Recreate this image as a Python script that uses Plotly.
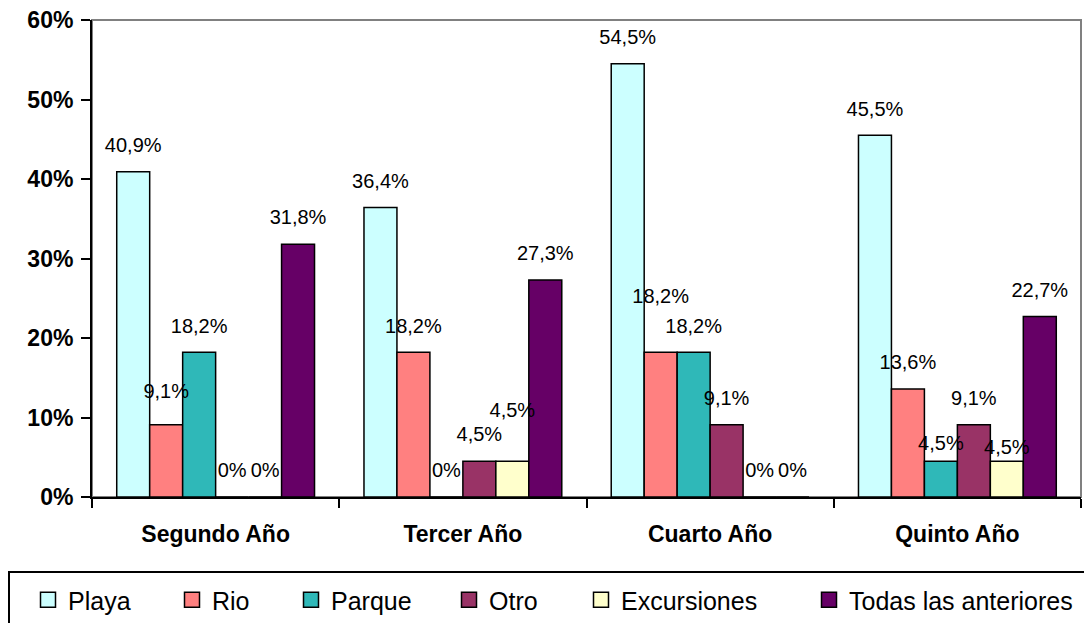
import plotly.graph_objects as go

categories = ["Segundo Año", "Tercer Año", "Cuarto Año", "Quinto Año"]
series_names = ["Playa", "Rio", "Parque", "Otro", "Excursiones", "Todas las anteriores"]
playa = [40.9, 36.4, 54.5, 45.5]
rio = [9.1, 18.2, 18.2, 13.6]
parque = [18.2, 0, 18.2, 4.5]
otro = [0, 4.5, 9.1, 9.1]
excursiones = [0, 4.5, 0, 4.5]
todas = [31.8, 27.3, 0, 22.7]
y_ticks = [0, 10, 20, 30, 40, 50, 60]
y_tick_labels = [f"{v}%" for v in y_ticks]

series_values = [playa, rio, parque, otro, excursiones, todas]
colors = ["#CCFFFF", "#FF8080", "#2FB8B8", "#993366", "#FFFFCC", "#660066"]

# extra vertical lift (px) of individual data labels, as placed in the original
label_lift = {
    "Rio": [7, 0, 30, 0],
    "Parque": [0, 0, 0, -9],
    "Excursiones": [0, 24, 0, -13],
}

FONT = "Liberation Sans, Arial, sans-serif"
W, H = 1092, 623
OFF = 8  # page body margin
# plot area in screen pixels
P_LEFT, P_RIGHT, P_TOP, P_BOTTOM = 92, 1081, 20, 497
ML = P_LEFT - OFF
MT = P_TOP - OFF
MR = W - (P_RIGHT - OFF)
MB = H - (P_BOTTOM - OFF)
PW, PH = W - ML - MR, H - MT - MB
BASE_LABEL_MARKER = 22


def fmt(v):
    if v == 0:
        return "0%"
    return (f"{v:.1f}").replace(".", ",") + "%"


def px_x(px):
    return (px - P_LEFT) / PW


def px_y(py):
    return (P_BOTTOM - py) / PH


fig = go.Figure()

for name, vals, col in zip(series_names, series_values, colors):
    fig.add_trace(go.Bar(
        x=categories, y=vals, name=name, showlegend=False, offsetgroup=name,
        marker=dict(color=col, line=dict(color="black", width=1.5)),
        hoverinfo="skip",
    ))

legend_text_px = [66, 210, 329, 487, 619, 847]
legend_keys = ["legend", "legend2", "legend3", "legend4", "legend5", "legend6"]

for i, (name, vals, col) in enumerate(zip(series_names, series_values, colors)):
    lift = label_lift.get(name, [0] * len(vals))
    sizes = [max(0.0, BASE_LABEL_MARKER + 1.6 * l) for l in lift]
    fig.add_trace(go.Scatter(
        x=categories, y=vals, mode="markers+text", orientation="v",
        text=[fmt(v) for v in vals], textposition="top center",
        textfont=dict(family=FONT, size=20, color="black"),
        marker=dict(size=sizes, opacity=0), offsetgroup=name,
        showlegend=False, cliponaxis=False, hoverinfo="skip",
    ))
    fig.add_trace(go.Scatter(
        x=[None], y=[None], mode="markers", name=name, offsetgroup=name,
        marker=dict(symbol="square", size=15, color=col,
                    line=dict(color="black", width=1.5)),
        legend=legend_keys[i], showlegend=True,
    ))

layout_legends = {}
for key, tx in zip(legend_keys, legend_text_px):
    layout_legends[key] = dict(
        xref="container", yref="container",
        x=(tx - 38 - OFF) / W, y=1 - (600 - OFF) / H, xanchor="left", yanchor="middle",
        orientation="h", bgcolor="rgba(0,0,0,0)", borderwidth=0,
        font=dict(family=FONT, size=25, color="black"), itemsizing="trace",
    )

fig.update_layout(
    width=W, height=H,
    margin=dict(l=ML, r=MR, t=MT, b=MB, autoexpand=False),
    paper_bgcolor="white", plot_bgcolor="white",
    barmode="group", bargap=0.2, bargroupgap=0,
    scattermode="group", scattergap=0.2,
    font=dict(family=FONT, color="black"),
    **layout_legends,
)

fig.update_xaxes(
    type="category", showline=True, linecolor="black", linewidth=2,
    ticks="outside", tickson="boundaries", ticklen=9, tickwidth=2, tickcolor="black",
    tickfont=dict(family=FONT, size=23, color="black", weight="bold"),
    ticklabelstandoff=15, showgrid=False, zeroline=False, fixedrange=True,
)
fig.update_yaxes(
    range=[0, 60], tickvals=y_ticks, ticktext=y_tick_labels,
    showline=True, linecolor="black", linewidth=2,
    ticks="outside", ticklen=9, tickwidth=2, tickcolor="black",
    tickfont=dict(family=FONT, size=23, color="black", weight="bold"),
    ticklabelstandoff=3, ticklabeloverflow="allow",
    showgrid=False, zeroline=False, fixedrange=True,
)

# plot-area border (gray top/right) and legend frame
fig.add_shape(type="rect", xref="paper", yref="paper", x0=0, x1=1, y0=0, y1=1,
              line=dict(color="#808080", width=2), layer="below")
fig.add_shape(type="rect", xref="paper", yref="paper",
              x0=px_x(9), x1=px_x(W + 20), y0=px_y(H + 20), y1=px_y(572),
              line=dict(color="black", width=2), layer="above")

fig.write_html("out.html")
